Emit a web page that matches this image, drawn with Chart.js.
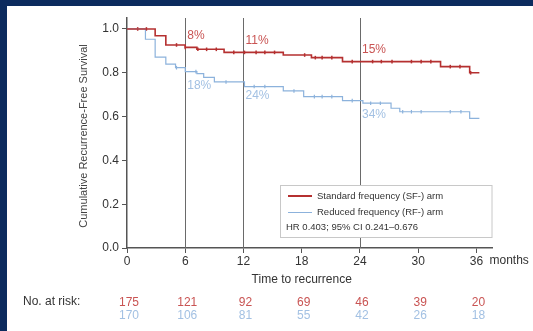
<!DOCTYPE html>
<html>
<head>
<meta charset="utf-8">
<script src="https://cdn.jsdelivr.net/npm/chart.js@4/dist/chart.umd.min.js"></script>
<style>
  html, body { margin: 0; padding: 0; background: #0c2b5e; }
  #wrap { width: 533px; height: 331px; position: relative; }
</style>
</head>
<body>
<div id="wrap"><canvas id="c" width="533" height="331"></canvas></div>
<script>
// ---- data ----
const sfTimes = [0, 2.9, 4.0, 6.0, 7.2, 10.0, 16.1, 19.0, 22.2, 32.3, 35.3, 36.3];
const sfSurv  = [1.0, 0.969, 0.927, 0.916, 0.907, 0.893, 0.881, 0.869, 0.851, 0.828, 0.80, 0.80];
const rfTimes = [0, 1.9, 2.9, 4.0, 5.0, 6.0, 7.2, 7.9, 9.0, 12.1, 16.1, 18.2, 22.2, 24.3, 27.2, 28.1, 35.3, 36.3];
const rfSurv  = [1.0, 0.953, 0.871, 0.839, 0.823, 0.805, 0.796, 0.779, 0.758, 0.737, 0.717, 0.691, 0.673, 0.661, 0.638, 0.622, 0.592, 0.592];
const sfCensor = [1.1, 2.0, 5.1, 6.0, 7.3, 8.2, 9.2, 11.0, 12.1, 13.3, 14.2, 15.2, 18.3, 19.4, 20.1, 21.1, 23.2, 25.3, 26.2, 27.3, 29.3, 30.3, 31.3, 33.3, 34.3, 35.4];
const rfCensor = [5.1, 7.1, 10.2, 13.1, 14.2, 17.2, 19.3, 20.1, 21.1, 23.2, 25.1, 26.1, 28.4, 29.3, 30.3, 33.3, 34.4];
const landmarks = [6, 12, 24];
const sfLandmarkLabels = ['8%', '11%', '15%'];
const rfLandmarkLabels = ['18%', '24%', '34%'];
const riskTimes = [0, 6, 12, 18, 24, 30, 36];
const sfRisk = [175, 121, 92, 69, 46, 39, 20];
const rfRisk = [170, 106, 81, 55, 42, 26, 18];
const xTicks = [0, 6, 12, 18, 24, 30, 36];
const yTicks = [0, 0.2, 0.4, 0.6, 0.8, 1.0];
const seriesNames = ['Standard frequency (SF-) arm', 'Reduced frequency (RF-) arm'];
const hrText = 'HR 0.403; 95% CI 0.241\u20130.676';
const yTitle = 'Cumulative Recurrence-Free Survival';
const xTitle = 'Time to recurrence';
const riskTitle = 'No. at risk:';

// ---- styles ----
const RED_LINE = '#b53030', RED_TXT = '#c95453';
const BLUE_LINE = '#8cb2dc', BLUE_TXT = '#a3c1e3';
const FONT = "'Liberation Sans', Arial, sans-serif";
Chart.defaults.font.family = FONT;

function pts(t, s) { return t.map((x, i) => ({ x: x, y: s[i] })); }
function survAt(t, times, surv) {
  let v = surv[0];
  for (let i = 0; i < times.length; i++) { if (times[i] <= t) v = surv[i]; }
  return v;
}
function censorPts(c, times, surv) { return c.map(t => ({ x: t, y: survAt(t, times, surv) })); }

const extras = {
  id: 'extras',
  beforeDraw(chart) {
    const ctx = chart.ctx;
    ctx.save();
    ctx.fillStyle = '#0c2b5e';
    ctx.fillRect(0, 0, chart.width, chart.height);
    ctx.fillStyle = '#ffffff';
    ctx.fillRect(7, 6, chart.width - 7, chart.height - 6);
    ctx.restore();
  },
  beforeDatasetsDraw(chart) {
    const ctx = chart.ctx, xs = chart.scales.x, a = chart.chartArea;
    ctx.save();
    ctx.strokeStyle = '#6a6a6a';
    ctx.lineWidth = 1;
    landmarks.forEach(m => {
      const px = Math.round(xs.getPixelForValue(m)) + 0.5;
      ctx.beginPath(); ctx.moveTo(px, a.top); ctx.lineTo(px, a.bottom); ctx.stroke();
    });
    ctx.restore();
  },
  afterDatasetsDraw(chart) {
    const ctx = chart.ctx, xs = chart.scales.x, ys = chart.scales.y, a = chart.chartArea;
    ctx.save();
    // legend box
    const bx = 280.5, by = 185.5, bw = a.right - 280.5, bh = 52;
    ctx.fillStyle = '#ffffff';
    ctx.fillRect(bx, by, bw, bh);
    ctx.strokeStyle = '#c8c8c8';
    ctx.lineWidth = 1;
    ctx.strokeRect(bx, by, bw, bh);
    ctx.lineWidth = 2; ctx.strokeStyle = RED_LINE;
    ctx.beginPath(); ctx.moveTo(288, 196); ctx.lineTo(312, 196); ctx.stroke();
    ctx.lineWidth = 1; ctx.strokeStyle = BLUE_LINE;
    ctx.beginPath(); ctx.moveTo(288, 212.5); ctx.lineTo(312, 212.5); ctx.stroke();
    ctx.fillStyle = '#333333';
    ctx.font = '9.5px ' + FONT;
    ctx.textBaseline = 'middle'; ctx.textAlign = 'left';
    ctx.fillText(seriesNames[0], 317, 196);
    ctx.fillText(seriesNames[1], 317, 212);
    ctx.fillText(hrText, 286, 227);
    // landmark percentages
    ctx.font = '12px ' + FONT;
    landmarks.forEach((m, i) => {
      const px = xs.getPixelForValue(m) + 2;
      ctx.fillStyle = RED_TXT;
      ctx.fillText(sfLandmarkLabels[i], px, ys.getPixelForValue(survAt(m, sfTimes, sfSurv)) - 12);
      ctx.fillStyle = BLUE_TXT;
      ctx.fillText(rfLandmarkLabels[i], px, ys.getPixelForValue(survAt(m, rfTimes, rfSurv)) + 14);
    });
    ctx.restore();
  },
  afterDraw(chart) {
    const ctx = chart.ctx, xs = chart.scales.x, a = chart.chartArea;
    ctx.save();
    ctx.textBaseline = 'middle';
    // "months"
    ctx.fillStyle = '#333333';
    ctx.font = '12px ' + FONT;
    ctx.textAlign = 'left';
    ctx.fillText('months', xs.getPixelForValue(36) + 13, 261);
    // x title
    ctx.textAlign = 'center';
    ctx.fillText(xTitle, (xs.getPixelForValue(0) + xs.getPixelForValue(36)) / 2, 280);
    // y title
    ctx.save();
    ctx.translate(84, 136);
    ctx.rotate(-Math.PI / 2);
    ctx.font = '11px ' + FONT;
    ctx.fillStyle = '#444444';
    ctx.fillText(yTitle, 0, 0);
    ctx.restore();
    // at risk table
    ctx.font = '12px ' + FONT;
    ctx.fillStyle = '#333333';
    ctx.textAlign = 'left';
    ctx.fillText(riskTitle, 23, 302);
    ctx.textAlign = 'center';
    riskTimes.forEach((t, i) => {
      const px = xs.getPixelForValue(t) + 2;
      ctx.fillStyle = RED_TXT;
      ctx.fillText(String(sfRisk[i]), px, 303);
      ctx.fillStyle = BLUE_TXT;
      ctx.fillText(String(rfRisk[i]), px, 316);
    });
    ctx.restore();
  }
};

new Chart(document.getElementById('c'), {
  type: 'line',
  data: {
    datasets: [
      { label: seriesNames[0], data: pts(sfTimes, sfSurv), stepped: true, borderColor: RED_LINE, borderWidth: 1.6, pointRadius: 0, fill: false },
      { label: seriesNames[1], data: pts(rfTimes, rfSurv), stepped: true, borderColor: BLUE_LINE, borderWidth: 1.2, pointRadius: 0, fill: false },
      { label: 'sf-c', data: censorPts(sfCensor, sfTimes, sfSurv), showLine: false, pointStyle: 'line', rotation: 90, pointRadius: 1.8, borderColor: RED_LINE, borderWidth: 1.5 },
      { label: 'rf-c', data: censorPts(rfCensor, rfTimes, rfSurv), showLine: false, pointStyle: 'line', rotation: 90, pointRadius: 1.8, borderColor: BLUE_LINE, borderWidth: 1.2 }
    ]
  },
  options: {
    responsive: false,
    animation: false,
    events: [],
    layout: { padding: { left: 0, right: 41, top: 18, bottom: 0 } },
    plugins: { legend: { display: false }, tooltip: { enabled: false } },
    scales: {
      x: {
        type: 'linear', min: 0, max: 37.6,
        afterFit(s) { s.height = 83; },
        afterBuildTicks(s) { s.ticks = xTicks.map(v => ({ value: v })); },
        grid: { drawOnChartArea: false, drawTicks: true, tickLength: 5, color: '#555555' },
        border: { display: true, color: '#555555', width: 1.5 },
        ticks: { color: '#333333', font: { size: 12 }, padding: 1, maxRotation: 0, autoSkip: false }
      },
      y: {
        min: 0, max: 1.05,
        afterFit(s) { s.width = 127; },
        afterBuildTicks(s) { s.ticks = yTicks.map(v => ({ value: v })); },
        grid: { drawOnChartArea: false, drawTicks: true, tickLength: 5, color: '#555555' },
        border: { display: true, color: '#555555', width: 1.5 },
        ticks: { color: '#333333', font: { size: 12 }, padding: 3, callback: v => v.toFixed(1) }
      }
    }
  },
  plugins: [extras]
});
</script>
</body>
</html>
